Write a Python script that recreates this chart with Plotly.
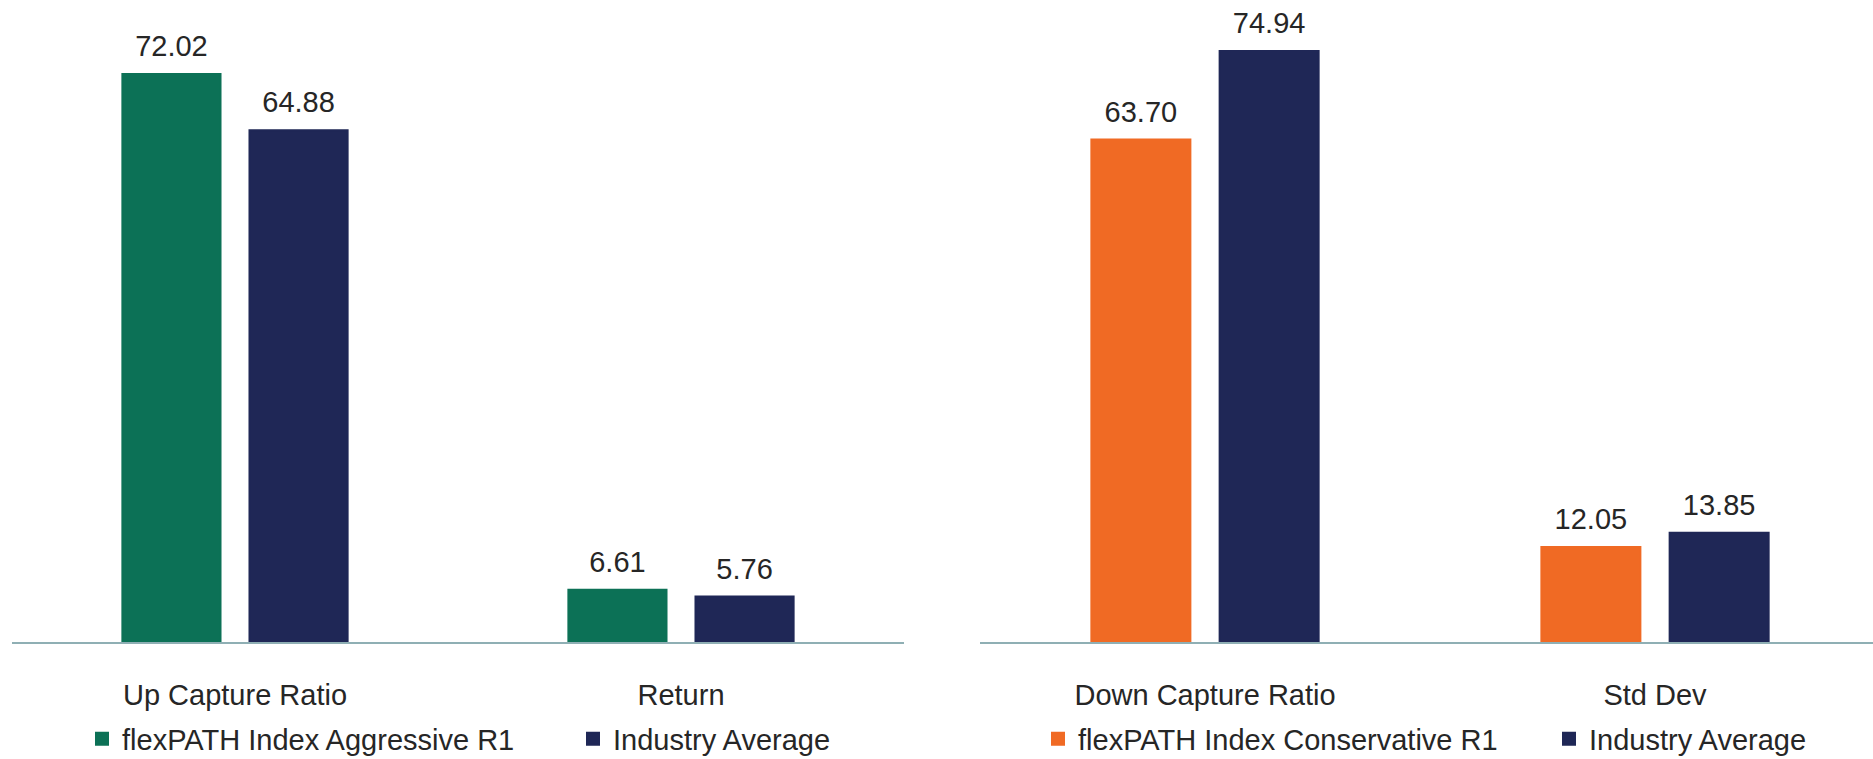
import plotly.graph_objects as go

W, H = 1873, 759

# Data
cats_left = ["Up Capture Ratio", "Return"]
aggr_vals = [72.02, 6.61]
ind_left_vals = [64.88, 5.76]

cats_right = ["Down Capture Ratio", "Std Dev"]
cons_vals = [63.70, 12.05]
ind_right_vals = [74.94, 13.85]

name_aggr = "flexPATH Index Aggressive R1"
name_cons = "flexPATH Index Conservative R1"
name_ind = "Industry Average"

GREEN = "#0C7156"
NAVY = "#1F2756"
ORANGE = "#F06A24"
AXIS = "#8FAFB4"
TXT = "#262626"
FONT = "Liberation Sans, Arial, sans-serif"
FS = 29

label_tpl = '<span style="font-size:29px">%{y:.2f}</span><br> '

def bar(x, y, name, color, xa, legend):
    return go.Bar(
        x=x, y=y, name=name, marker=dict(color=color, line=dict(width=2, color=color)),
        xaxis=xa, yaxis="y" if xa == "x" else "y2", legend=legend,
        texttemplate=label_tpl, textposition="outside",
        textfont=dict(size=10, color=TXT, family=FONT),
        constraintext="none", cliponaxis=False, hoverinfo="skip",
    )

fig = go.Figure()
fig.add_trace(bar(cats_left, aggr_vals, name_aggr, GREEN, "x", "legend"))
fig.add_trace(bar(cats_left, ind_left_vals, name_ind, NAVY, "x", "legend"))
fig.add_trace(bar(cats_right, cons_vals, name_cons, ORANGE, "x2", "legend2"))
fig.add_trace(bar(cats_right, ind_right_vals, name_ind, NAVY, "x2", "legend2"))

axis_common = dict(
    showline=True, linecolor=AXIS, linewidth=2, ticks="", showgrid=False,
    zeroline=False, tickfont=dict(size=FS, color=TXT, family=FONT),
    ticklabelstandoff=26, fixedrange=True,
)
yaxis_common = dict(range=[0, 80], visible=False, showgrid=False, zeroline=False)

legend_common = dict(
    orientation="h", xanchor="left", yanchor="top", y=-0.113,
    font=dict(size=FS, color=TXT, family=FONT), bgcolor="rgba(0,0,0,0)",
    itemwidth=30, tracegroupgap=0, entrywidthmode="pixels",
)

fig.update_layout(
    width=W, height=H,
    margin=dict(l=0, r=0, t=11, b=117, autoexpand=False),
    paper_bgcolor="white", plot_bgcolor="white",
    barmode="group", bargap=0.43, bargroupgap=0.228,
    font=dict(family=FONT, size=FS, color=TXT),
    xaxis=dict(domain=[12 / W, 904 / W], range=[-0.5, 1.5], **axis_common),
    xaxis2=dict(domain=[980 / W, 1.0], range=[-0.5, 1.4844], anchor="y2", **axis_common),
    yaxis=dict(anchor="x", **yaxis_common),
    yaxis2=dict(anchor="x2", **yaxis_common),
    legend=dict(x=82 / W, entrywidth=446, **legend_common),
    legend2=dict(x=1038 / W, entrywidth=466, **legend_common),
    showlegend=True,
)

fig.write_html("out.html")
